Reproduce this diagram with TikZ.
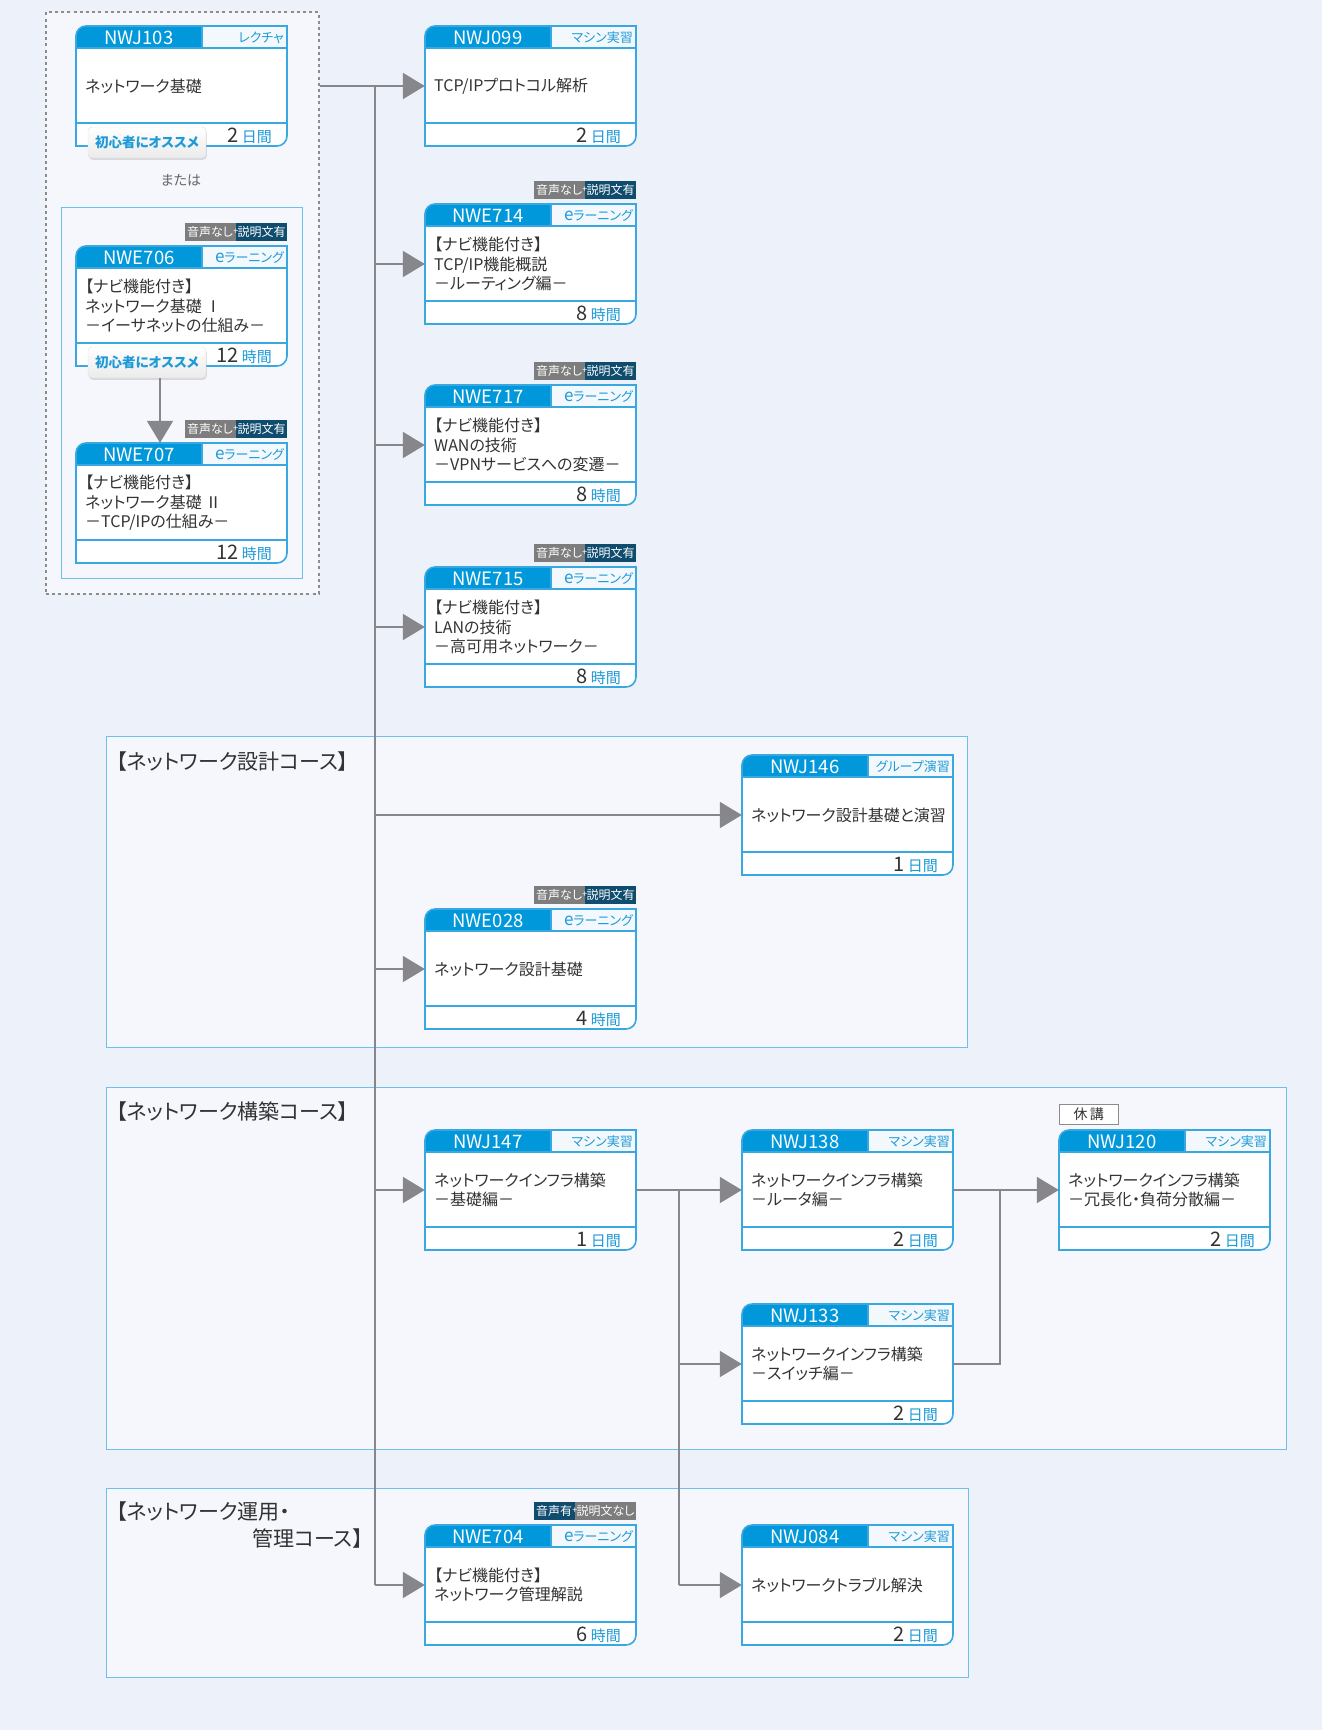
\documentclass[tikz,border=0pt]{standalone}
\usepackage{fontspec}
\setmainfont{Noto Sans CJK JP}[RawFeature=+palt]
\usetikzlibrary{arrows.meta,shadows}

\definecolor{bgc}{HTML}{EDF1F9}
\definecolor{panelc}{HTML}{F5F7FC}
\definecolor{cardblue}{HTML}{0098DA}
\definecolor{cardedge}{HTML}{3AA8E0}
\definecolor{typefill}{HTML}{F2F8FC}
\definecolor{typeblue}{HTML}{1E9AD8}
\definecolor{linkgray}{HTML}{86868B}
\definecolor{inkc}{HTML}{333333}
\definecolor{badgegray}{HTML}{7D7D7D}
\definecolor{badgenavy}{HTML}{0F4C6E}
\definecolor{secedge}{HTML}{6EC0EA}

% one course card: name, x, y (top left), code, kind, title, amount, unit
\newcommand\coursecard[8]{%
\begin{scope}[shift={(#2,#3)}]
  \fill[white] (0,10) .. controls (0,4.5) and (4.5,0) .. (10,0) -- (211,0) -- (211,110)
     .. controls (211,115.5) and (206.5,120) .. (201,120) -- (0,120) -- cycle;
  \fill[cardblue] (0,10) .. controls (0,4.5) and (4.5,0) .. (10,0) -- (126,0) -- (126,22) -- (0,22) -- cycle;
  \fill[typefill] (126,0) rectangle (211,22);
  \draw[cardline] (0,22) -- (211,22) (0,97) -- (211,97) (126,0) -- (126,22);
  \draw[cardline] (0,10) .. controls (0,4.5) and (4.5,0) .. (10,0) -- (211,0) -- (211,110)
     .. controls (211,115.5) and (206.5,120) .. (201,120) -- (0,120) -- cycle;
  \node[coursecode] (#1-code) at (63,11.5) {#4};
  \node[coursekind, anchor=east] (#1-kind) at (208,11.5) {#5};
  \node[coursetitle, anchor=west] (#1-title) at (9,60) {#6};
  \node[courseamount, anchor=base east] (#1-amount) at (196,116) {#7\,{\color{typeblue}\fontsize{15}{15}\selectfont #8}};
  \node[inner sep=0pt, minimum width=211pt, minimum height=120pt] (#1) at (105.5,60) {};
\end{scope}}

\newcommand\elearn{{\fontsize{17}{17}\selectfont e}ラーニング}

% audio / caption badge above a card: name, card, left text, left colour, left width, right text, right colour, right width
\newcommand\mediabadge[8]{%
  \node[badgepart, fill=#7, minimum width=#8pt, anchor=south east] (#1-b) at ([yshift=5pt]#2.north east) {#6};
  \node[badgepart, fill=#4, minimum width=#5pt, anchor=south east] (#1-a) at (#1-b.south west) {#3};
  \node[badgeplus] (#1-p) at ([yshift=-0.5pt]#1-b.west) {+};
}

\newcommand\beginnertag[2]{%
  \node[beginner, anchor=north west] (#1) at ([xshift=12pt,yshift=-101pt]#2.north west) {初心者にオススメ};
}

\begin{document}
\begin{tikzpicture}[x=1pt, y=-1pt,
  cardline/.style={draw=cardedge, line width=1.6pt},
  coursecode/.style={text=white, inner sep=0pt, font=\fontsize{18.5}{18.5}\selectfont},
  coursekind/.style={text=typeblue, inner sep=0pt, font=\fontsize{13}{13}\selectfont},
  coursetitle/.style={text=inkc, inner sep=0pt, align=left, font=\fontsize{16}{19.5}\selectfont},
  courseamount/.style={text=inkc, inner sep=0pt, font=\fontsize{20}{20}\selectfont},
  badgepart/.style={inner sep=0pt, minimum height=18pt, text=white, font=\fontsize{12}{12}\selectfont},
  badgeplus/.style={inner sep=0pt, text=white, font=\fontsize{9}{9}\selectfont},
  beginner/.style={draw=black!12, rounded corners=4pt, top color=white, bottom color=black!8,
     minimum width=118pt, minimum height=31pt, inner sep=0pt, text=typeblue,
     font=\fontsize{13.5}{13.5}\selectfont\bfseries,
     drop shadow={opacity=0.25, shadow xshift=0.8pt, shadow yshift=-1.8pt}},
  panel/.style={draw=secedge, line width=1.3pt, fill=panelc, inner sep=0pt, anchor=north west},
  sectitle/.style={text=inkc, inner sep=0pt, align=left, font=\fontsize{21}{26.5}\selectfont},
  linkline/.style={draw=linkgray, line width=2pt},
  linkarrow/.style={draw=linkgray, fill=linkgray, line width=2pt, -{Triangle[length=22pt,width=26pt]}}
]
\useasboundingbox (0,0) rectangle (1322,1730);
\fill[bgc] (0,0) rectangle (1322,1730);

% introductory group
\node[draw=black!45, line width=2pt, dash pattern=on 3pt off 3.2pt, fill=panelc, inner sep=0pt,
      minimum width=273pt, minimum height=582pt, anchor=north west] (introbox) at (45,11) {};
\node[panel, minimum width=241pt, minimum height=371pt] (elearnbox) at (61,207) {};
\node[text=black!60, inner sep=0pt, font=\fontsize{14}{14}\selectfont] (orword) at (181,180) {または};

% course sections
\node[panel, minimum width=861pt, minimum height=311pt] (secdesign) at (106,736) {};
\node[panel, minimum width=1180pt, minimum height=362pt] (secbuild) at (106,1087) {};
\node[panel, minimum width=862pt, minimum height=189pt] (secops) at (106,1488) {};
\node[sectitle, anchor=west] (secdesign-t) at (116,762) {【ネットワーク設計コース】};
\node[sectitle, anchor=west] (secbuild-t) at (116,1112) {【ネットワーク構築コース】};
\node[sectitle, anchor=north west] (secops-t) at (116,1502) {【ネットワーク運用・\\\hspace*{136pt}管理コース】};

% cards
\coursecard{nwj103}{76}{26}{NWJ103}{レクチャ}{ネットワーク基礎}{2}{日間}
\coursecard{nwe706}{76}{246}{NWE706}{\elearn}{【ナビ機能付き】\\ネットワーク基礎 Ⅰ\\－イーサネットの仕組み－}{12}{時間}
\coursecard{nwe707}{76}{443}{NWE707}{\elearn}{【ナビ機能付き】\\ネットワーク基礎 Ⅱ\\－TCP/IPの仕組み－}{12}{時間}

\coursecard{nwj099}{425}{26}{NWJ099}{マシン実習}{TCP/IPプロトコル解析}{2}{日間}
\coursecard{nwe714}{425}{204}{NWE714}{\elearn}{【ナビ機能付き】\\TCP/IP機能概説\\－ルーティング編－}{8}{時間}
\coursecard{nwe717}{425}{385}{NWE717}{\elearn}{【ナビ機能付き】\\WANの技術\\－VPNサービスへの変遷－}{8}{時間}
\coursecard{nwe715}{425}{567}{NWE715}{\elearn}{【ナビ機能付き】\\LANの技術\\－高可用ネットワーク－}{8}{時間}
\coursecard{nwe028}{425}{909}{NWE028}{\elearn}{ネットワーク設計基礎}{4}{時間}
\coursecard{nwj147}{425}{1130}{NWJ147}{マシン実習}{ネットワークインフラ構築\\－基礎編－}{1}{日間}
\coursecard{nwe704}{425}{1525}{NWE704}{\elearn}{【ナビ機能付き】\\ネットワーク管理解説}{6}{時間}

\coursecard{nwj146}{742}{755}{NWJ146}{グループ演習}{ネットワーク設計基礎と演習}{1}{日間}
\coursecard{nwj138}{742}{1130}{NWJ138}{マシン実習}{ネットワークインフラ構築\\－ルータ編－}{2}{日間}
\coursecard{nwj133}{742}{1304}{NWJ133}{マシン実習}{ネットワークインフラ構築\\－スイッチ編－}{2}{日間}
\coursecard{nwj084}{742}{1525}{NWJ084}{マシン実習}{ネットワークトラブル解決}{2}{日間}

\coursecard{nwj120}{1059}{1130}{NWJ120}{マシン実習}{ネットワークインフラ構築\\－冗長化・負荷分散編－}{2}{日間}

% badges and tags
\mediabadge{bd706}{nwe706}{音声なし}{badgegray}{51}{説明文有}{badgenavy}{51}
\mediabadge{bd707}{nwe707}{音声なし}{badgegray}{51}{説明文有}{badgenavy}{51}
\mediabadge{bd714}{nwe714}{音声なし}{badgegray}{51}{説明文有}{badgenavy}{51}
\mediabadge{bd717}{nwe717}{音声なし}{badgegray}{51}{説明文有}{badgenavy}{51}
\mediabadge{bd715}{nwe715}{音声なし}{badgegray}{51}{説明文有}{badgenavy}{51}
\mediabadge{bd028}{nwe028}{音声なし}{badgegray}{51}{説明文有}{badgenavy}{51}
\mediabadge{bd704}{nwe704}{音声有}{badgenavy}{41}{説明文なし}{badgegray}{61}

\node[draw=black!45, line width=1pt, fill=white, inner sep=0pt, minimum width=59pt, minimum height=20pt,
      anchor=south west, text=inkc, font=\fontsize{14}{14}\selectfont] (closed) at ([yshift=5pt]nwj120.north west) {休\,講};

% connectors
\coordinate (trunk) at (375,86);
\coordinate (trunkb) at (679,0);
\coordinate (trunkc) at (1000,0);
\coordinate (downx) at (160,0);

\draw[linkline] (trunk) -- (trunk |- nwe704.west);
\draw[linkarrow] (introbox.east |- nwj099.west) -- (nwj099.west);
\draw[linkarrow] (trunk |- nwe714.west) -- (nwe714.west);
\draw[linkarrow] (trunk |- nwe717.west) -- (nwe717.west);
\draw[linkarrow] (trunk |- nwe715.west) -- (nwe715.west);
\draw[linkarrow] (trunk |- nwj146.west) -- (nwj146.west);
\draw[linkarrow] (trunk |- nwe028.west) -- (nwe028.west);
\draw[linkarrow] (trunk |- nwj147.west) -- (nwj147.west);
\draw[linkarrow] (trunk |- nwe704.west) -- (nwe704.west);

\draw[linkline] (nwj147.east) -- (trunkb |- nwj147.east) -- (trunkb |- nwj084.west);
\draw[linkarrow] (trunkb |- nwj138.west) -- (nwj138.west);
\draw[linkarrow] (trunkb |- nwj133.west) -- (nwj133.west);
\draw[linkarrow] (trunkb |- nwj084.west) -- (nwj084.west);

\draw[linkline] (nwj138.east) -- (trunkc |- nwj138.east);
\draw[linkline] (nwj133.east) -- (trunkc |- nwj133.east) -- (trunkc |- nwj138.east);
\draw[linkarrow] (trunkc |- nwj120.west) -- (nwj120.west);

% beginner tags drawn last so they sit over the card edges
\beginnertag{tag103}{nwj103}
\beginnertag{tag706}{nwe706}
\draw[linkarrow] (tag706.south -| downx) -- (nwe707.north -| downx);

\end{tikzpicture}
\end{document}
